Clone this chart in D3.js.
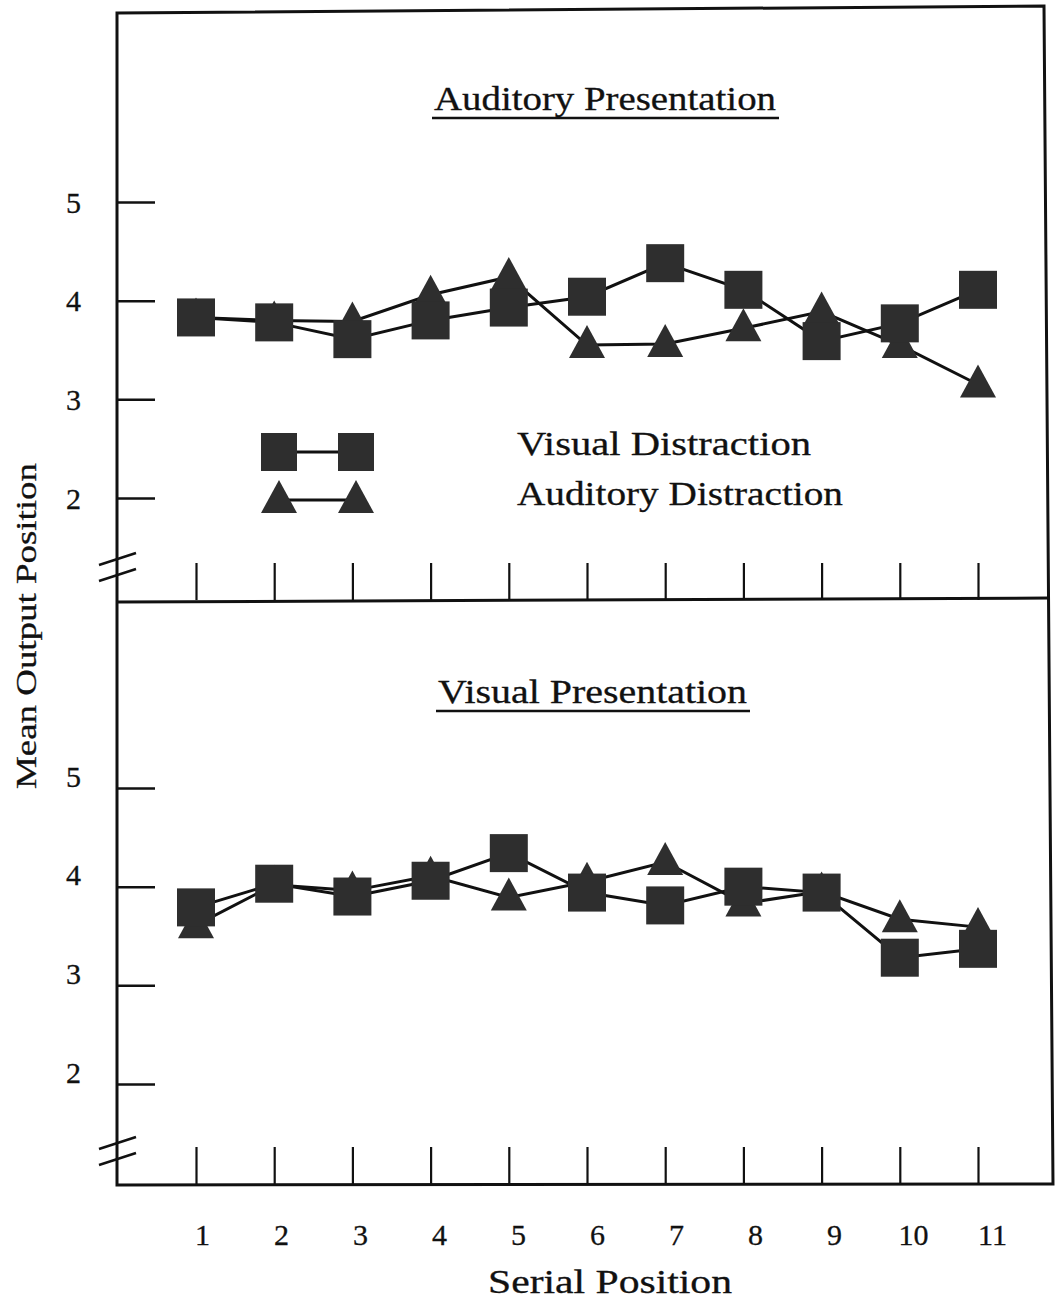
<!DOCTYPE html>
<html>
<head>
<meta charset="utf-8">
<script src="https://cdn.jsdelivr.net/npm/d3@7"></script>
<style>
  body { margin: 0; background: #fff; }
  text { font-family: "Liberation Serif", "DejaVu Serif", serif; fill: #111; stroke: #111; stroke-width: 0.3; }
</style>
</head>
<body>
<div id="chart"></div>
<script>
// serial positions and tick labels
const positions = [1, 2, 3, 4, 5, 6, 7, 8, 9, 10, 11];
const xLabels = ['1', '2', '3', '4', '5', '6', '7', '8', '9', '10', '11'];
const yTicks = [2, 3, 4, 5];

// Auditory presentation
const audVisualDist = [3.83, 3.78, 3.61, 3.80, 3.93, 4.04, 4.38, 4.11, 3.59, 3.77, 4.11];
const audAuditoryDist = [3.83, 3.80, 3.79, 4.06, 4.24, 3.55, 3.56, 3.72, 3.89, 3.55, 3.15];

// Visual presentation
const visVisualDist = [3.79, 4.03, 3.90, 4.06, 4.34, 3.94, 3.81, 4.00, 3.94, 3.28, 3.37];
const visAuditoryDist = [3.61, 4.02, 3.96, 4.11, 3.89, 4.05, 4.25, 3.83, 3.95, 3.67, 3.59];

const W = 1059, H = 1302;
const left = 117;
const ink = '#111';
const markFill = '#2e2e2e';

const svg = d3.select('#chart')
    .append('svg')
    .attr('width', W)
    .attr('height', H);

svg.append('rect').attr('width', W).attr('height', H).attr('fill', '#fff');

// frame (hand drawn, slightly skewed)
svg.append('path')
    .attr('d', 'M117,13 L1044,6 L1053,1184 L117,1185 Z')
    .attr('fill', 'none')
    .attr('stroke', ink)
    .attr('stroke-width', 3);
svg.append('path')
    .attr('d', 'M117,602 L1050,598')
    .attr('stroke', ink)
    .attr('stroke-width', 3);

const x = d3.scaleLinear().domain([1, 11]).range([196, 978]);
const xText = d3.scaleLinear().domain([1, 11]).range([202, 992]);

const panels = [
    {title: 'Auditory Presentation', titleX: 434, titleY: 110, titleLen: 342,
     y: d3.scaleLinear().domain([2, 5]).range([498, 202]),
     base: 600, labelDy: 0, breakY: 555,
     squares: audVisualDist, triangles: audAuditoryDist},
    {title: 'Visual Presentation', titleX: 438, titleY: 703, titleLen: 309,
     y: d3.scaleLinear().domain([2, 5]).range([1084, 788]),
     base: 1184, labelDy: -12, breakY: 1139,
     squares: visVisualDist, triangles: visAuditoryDist}
];

const triPath = 'M0,-20 L18,13 L-18,13 Z';

panels.forEach(p => {
    const g = svg.append('g');

    // title + underline
    g.append('text')
        .attr('x', p.titleX)
        .attr('y', p.titleY)
        .attr('font-size', 33)
        .attr('textLength', p.titleLen)
        .attr('lengthAdjust', 'spacingAndGlyphs')
        .text(p.title);
    g.append('line')
        .attr('x1', p.titleX - 2).attr('x2', p.titleX + p.titleLen + 3)
        .attr('y1', p.titleY + 8).attr('y2', p.titleY + 8)
        .attr('stroke', ink).attr('stroke-width', 2.5);

    // y ticks
    const yAxis = g.append('g')
        .attr('transform', `translate(${left},0)`)
        .call(d3.axisRight(p.y).tickValues(yTicks).tickSize(38).tickFormat(''));
    yAxis.select('.domain').remove();
    yAxis.selectAll('line').attr('stroke', ink).attr('stroke-width', 2.5);

    const yLab = g.append('g')
        .attr('transform', `translate(${left},0)`)
        .call(d3.axisLeft(p.y).tickValues(yTicks).tickSize(0).tickPadding(36)
            .tickFormat(d3.format('d')));
    yLab.select('.domain').remove();
    yLab.selectAll('text')
        .attr('font-size', 30)
        .attr('dy', `${0.34 + p.labelDy / 30}em`)
        .style('font-family', '"Liberation Serif", serif')
        .attr('fill', ink);

    // x ticks rising from the base line
    const xAxis = g.append('g')
        .attr('transform', `translate(0,${p.base})`)
        .call(d3.axisTop(x).tickValues(positions).tickSize(37).tickFormat(''));
    xAxis.select('.domain').remove();
    xAxis.selectAll('line').attr('stroke', ink).attr('stroke-width', 2.2);

    // axis break
    [0, 16].forEach(off => {
        g.append('line')
            .attr('x1', 99).attr('y1', p.breakY + off + 10)
            .attr('x2', 136).attr('y2', p.breakY + off - 2)
            .attr('stroke', ink).attr('stroke-width', 2.5);
    });

    const lineGen = d3.line()
        .x((d, i) => x(positions[i]))
        .y(d => p.y(d));

    [p.triangles, p.squares].forEach(series => {
        g.append('path')
            .datum(series)
            .attr('fill', 'none')
            .attr('stroke', ink)
            .attr('stroke-width', 3)
            .attr('d', lineGen);
    });

    g.selectAll('.tri')
        .data(p.triangles)
        .enter()
        .append('path')
        .attr('class', 'tri')
        .attr('d', triPath)
        .attr('transform', (d, i) => `translate(${x(positions[i])},${p.y(d)})`)
        .attr('fill', markFill);

    g.selectAll('.sq')
        .data(p.squares)
        .enter()
        .append('rect')
        .attr('class', 'sq')
        .attr('x', (d, i) => x(positions[i]) - 19)
        .attr('y', d => p.y(d) - 19)
        .attr('width', 38)
        .attr('height', 38)
        .attr('fill', markFill);
});

// x tick labels under the lower panel
const xLab = svg.append('g')
    .attr('transform', 'translate(0,1184)')
    .call(d3.axisBottom(xText).tickValues(positions).tickSize(0).tickPadding(40)
        .tickFormat((d, i) => xLabels[i]));
xLab.select('.domain').remove();
xLab.selectAll('text')
    .attr('font-size', 30)
    .style('font-family', '"Liberation Serif", serif')
    .attr('fill', ink);

// legend
const legend = svg.append('g');
const legendItems = [
    {label: 'Visual Distraction', y: 452, shape: 'sq', textY: 455, len: 294},
    {label: 'Auditory Distraction', y: 500, shape: 'tri', textY: 505, len: 326}
];
legendItems.forEach(item => {
    const xs = [279, 356];
    legend.append('line')
        .attr('x1', xs[0]).attr('x2', xs[1])
        .attr('y1', item.y).attr('y2', item.y)
        .attr('stroke', ink).attr('stroke-width', 3);
    xs.forEach(cx => {
        if (item.shape === 'sq') {
            legend.append('rect')
                .attr('x', cx - 18).attr('y', item.y - 19)
                .attr('width', 36).attr('height', 38)
                .attr('fill', markFill);
        } else {
            legend.append('path')
                .attr('d', triPath)
                .attr('transform', `translate(${cx},${item.y})`)
                .attr('fill', markFill);
        }
    });
    legend.append('text')
        .attr('x', 517)
        .attr('y', item.textY)
        .attr('font-size', 33)
        .attr('textLength', item.len)
        .attr('lengthAdjust', 'spacingAndGlyphs')
        .text(item.label);
});

// axis titles
svg.append('text')
    .attr('x', 488)
    .attr('y', 1293)
    .attr('font-size', 33)
    .attr('textLength', 244)
    .attr('lengthAdjust', 'spacingAndGlyphs')
    .text('Serial Position');

svg.append('text')
    .attr('transform', 'translate(36,626) rotate(-90)')
    .attr('text-anchor', 'middle')
    .attr('font-size', 29)
    .attr('textLength', 326)
    .attr('lengthAdjust', 'spacingAndGlyphs')
    .text('Mean Output Position');
</script>
</body>
</html>
